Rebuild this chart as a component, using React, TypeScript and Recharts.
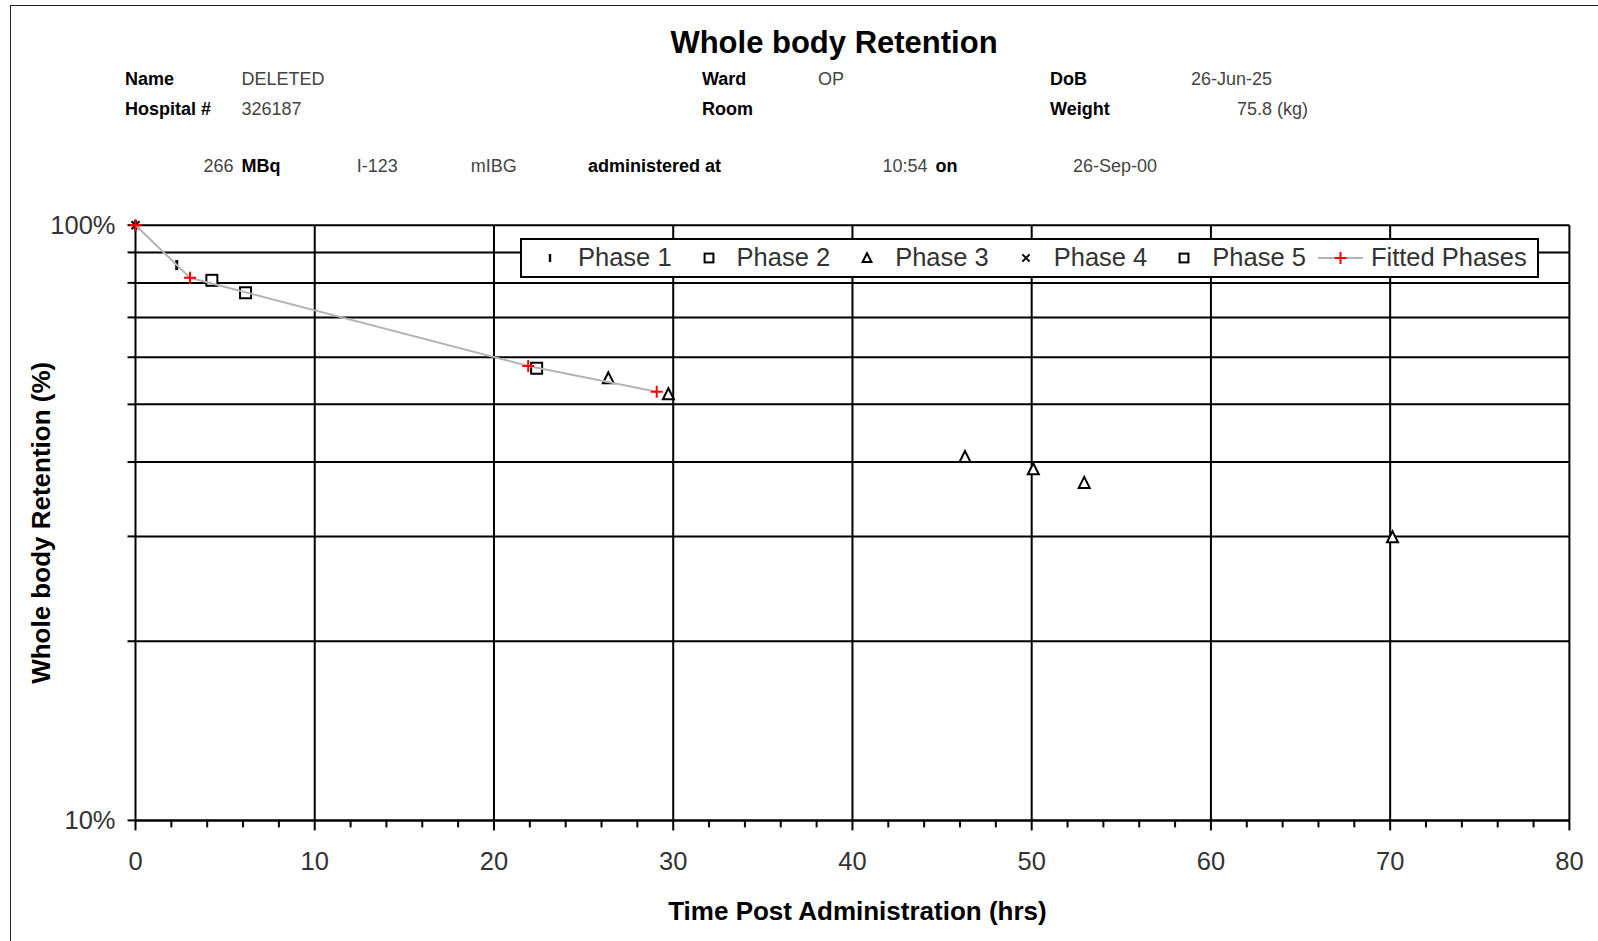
import React from 'react';
import {
  ScatterChart,
  Scatter,
  XAxis,
  YAxis,
  CartesianGrid,
  ReferenceLine,
  Legend,
  Label,
} from 'recharts';

// measured retention (% of dose) against hours after administration
const phase1 = [
  { t: 0, r: 100 },
  { t: 2.3, r: 85.7 },
];
const phase2 = [
  { t: 4.26, r: 80.8 },
  { t: 6.14, r: 77.0 },
  { t: 22.38, r: 57.5 },
];
const phase3 = [
  { t: 26.38, r: 55.3 },
  { t: 29.73, r: 52.0 },
  { t: 46.28, r: 40.8 },
  { t: 50.09, r: 38.9 },
  { t: 52.93, r: 36.9 },
  { t: 70.13, r: 29.9 },
];
const phase4 = [{ t: 0, r: 100 }];
const phase5: { t: number; r: number }[] = [];
const fitted = [
  { t: 0, r: 100 },
  { t: 3.04, r: 81.6 },
  { t: 21.91, r: 58.0 },
  { t: 29.08, r: 52.5 },
];

const xTicks = Array.from({ length: 41 }, (_, i) => i * 2);
const xGridLines = [10, 20, 30, 40, 50, 60, 70, 80];
const yTicks = [10, 20, 30, 40, 50, 60, 70, 80, 90, 100];
const yLabelled = [10, 100];

const patient = {
  name: 'DELETED',
  hospital: '326187',
  ward: 'OP',
  room: '',
  dob: '26-Jun-25',
  weight: '75.8',
};
const dose = {
  activity: '266',
  isotope: 'I-123',
  agent: 'mIBG',
  time: '10:54',
  date: '26-Sep-00',
};

const FONT = '"Liberation Sans", Arial, Helvetica, sans-serif';
const FITTED = 'Fitted Phases';

// marker glyphs
const BarMark = ({ cx, cy, s = 1 }: any) => (
  <rect x={cx - 1.5 * s} y={cy - 5 * s} width={3 * s} height={10 * s} fill="#000" />
);
const SquareMark = ({ cx, cy, s = 1 }: any) => (
  <rect
    x={cx - 5.5 * s}
    y={cy - 5.5 * s}
    width={11 * s}
    height={11 * s}
    fill="#fff"
    stroke="#000"
    strokeWidth={2}
  />
);
const TriangleMark = ({ cx, cy, s = 1 }: any) => (
  <path
    d={`M${cx},${cy - 6 * s} L${cx + 5.5 * s},${cy + 5 * s} L${cx - 5.5 * s},${cy + 5 * s} Z`}
    fill="#fff"
    stroke="#000"
    strokeWidth={2}
  />
);
const CrossMark = ({ cx, cy, s = 1 }: any) => (
  <path
    d={`M${cx - 4 * s},${cy - 4 * s} L${cx + 4 * s},${cy + 4 * s} M${cx + 4 * s},${cy - 4 * s} L${cx - 4 * s},${cy + 4 * s}`}
    stroke="#000"
    strokeWidth={2}
  />
);
const PlusMark = ({ cx, cy, s = 1 }: any) => (
  <path
    d={`M${cx - 6 * s},${cy} L${cx + 6 * s},${cy} M${cx},${cy - 6 * s} L${cx},${cy + 6 * s}`}
    stroke="#ff0000"
    strokeWidth={2}
  />
);

const legendMarks: Record<string, (cx: number, cy: number) => React.ReactNode> = {
  'Phase 1': (cx, cy) => <BarMark cx={cx} cy={cy} s={0.8} />,
  'Phase 2': (cx, cy) => <SquareMark cx={cx} cy={cy} s={0.8} />,
  'Phase 3': (cx, cy) => <TriangleMark cx={cx} cy={cy} s={0.8} />,
  'Phase 4': (cx, cy) => <CrossMark cx={cx} cy={cy} s={0.9} />,
  'Phase 5': (cx, cy) => <SquareMark cx={cx} cy={cy} s={0.8} />,
};

const LegendBox = ({ payload }: any) => {
  // fitted line sits last, after the measured phases
  const items = [...(payload || [])].sort(
    (a: any, b: any) => Number(a.value === FITTED) - Number(b.value === FITTED)
  );
  return (
    <div
      style={{
        display: 'flex',
        alignItems: 'center',
        boxSizing: 'border-box',
        height: 40,
        padding: '0 10px 0 18px',
        border: '2px solid #000',
        background: '#fff',
        fontFamily: FONT,
        fontSize: 25.5,
        color: '#333',
        whiteSpace: 'nowrap',
      }}
    >
      {items.map((entry: any, i: number) => {
        const fittedItem = entry.value === FITTED;
        return (
          <div
            key={`legend-${i}`}
            style={{ display: 'flex', alignItems: 'center', marginLeft: i === 0 ? 0 : fittedItem ? 12 : 27 }}
          >
            {fittedItem ? (
              <svg width={45} height={20}>
                <line x1={0} x2={45} y1={10} y2={10} stroke="#b4b4b4" strokeWidth={2} />
                <PlusMark cx={22.5} cy={10} />
              </svg>
            ) : (
              <svg width={20} height={20}>
                {legendMarks[entry.value]?.(10, 10)}
              </svg>
            )}
            <span style={{ marginLeft: fittedItem ? 8 : 18 }}>{entry.value}</span>
          </div>
        );
      })}
    </div>
  );
};

const XTick = (props: any) => {
  const { x, y, payload } = props;
  const major = payload.value % 10 === 0;
  return (
    <g>
      <line x1={x} x2={x} y1={y} y2={y + (major ? 10 : 7)} stroke="#000" strokeWidth={2} />
      {major && (
        <text x={x} y={y + 50} textAnchor="middle" fontSize={25.5} fill="#333" fontFamily={FONT}>
          {payload.value}
        </text>
      )}
    </g>
  );
};

const YTitle = (props: any) => {
  const vb = props.viewBox;
  const cx = vb.x - 34.5;
  const cy = vb.y + vb.height / 2;
  return (
    <text
      x={cx}
      y={cy}
      transform={`rotate(-90 ${cx} ${cy})`}
      textAnchor="middle"
      dominantBaseline="central"
      fontSize={26}
      fontWeight="bold"
      fontFamily={FONT}
      fill="#000"
    >
      Whole body Retention (%)
    </text>
  );
};

const label: React.CSSProperties = {
  position: 'absolute',
  fontFamily: FONT,
  fontSize: 18,
  fontWeight: 'bold',
  color: '#000',
  lineHeight: '20px',
  whiteSpace: 'nowrap',
};
const value: React.CSSProperties = { ...label, fontWeight: 'normal', color: '#444' };

export default function App() {
  return (
    <div
      style={{
        position: 'absolute',
        left: 0,
        top: 0,
        width: 1598,
        height: 941,
        overflow: 'hidden',
        background: '#fff',
        fontFamily: FONT,
      }}
    >
      <div
        style={{
          position: 'absolute',
          left: 10,
          top: 5,
          width: 1620,
          height: 960,
          border: '1.5px solid #222',
        }}
      />

      <div
        style={{
          position: 'absolute',
          left: 534,
          width: 600,
          top: 24,
          textAlign: 'center',
          fontSize: 31,
          fontWeight: 'bold',
          lineHeight: '38px',
        }}
      >
        Whole body Retention
      </div>

      <span style={{ ...label, left: 125, top: 68.5 }}>Name</span>
      <span style={{ ...value, left: 241.5, top: 68.5 }}>{patient.name}</span>
      <span style={{ ...label, left: 702, top: 68.5 }}>Ward</span>
      <span style={{ ...value, left: 818, top: 68.5 }}>{patient.ward}</span>
      <span style={{ ...label, left: 1050, top: 68.5 }}>DoB</span>
      <span style={{ ...value, left: 1191, top: 68.5 }}>{patient.dob}</span>

      <span style={{ ...label, left: 125, top: 99 }}>Hospital #</span>
      <span style={{ ...value, left: 241.5, top: 99 }}>{patient.hospital}</span>
      <span style={{ ...label, left: 702, top: 99 }}>Room</span>
      <span style={{ ...value, left: 818, top: 99 }}>{patient.room}</span>
      <span style={{ ...label, left: 1050, top: 99 }}>Weight</span>
      <span style={{ ...value, left: 1237, top: 99 }}>{patient.weight} (kg)</span>

      <span style={{ ...value, right: 1598 - 233.5, top: 156 }}>{dose.activity}</span>
      <span style={{ ...label, left: 241.5, top: 156 }}>MBq</span>
      <span style={{ ...value, left: 356.7, top: 156 }}>{dose.isotope}</span>
      <span style={{ ...value, left: 470.8, top: 156 }}>{dose.agent}</span>
      <span style={{ ...label, left: 588, top: 156 }}>administered at</span>
      <span style={{ ...value, left: 882.5, top: 156 }}>{dose.time}</span>
      <span style={{ ...label, left: 935.5, top: 156 }}>on</span>
      <span style={{ ...value, left: 1073, top: 156 }}>{dose.date}</span>

      <ScatterChart
        width={1598}
        height={941}
        margin={{ top: 225.2, right: 28.6, bottom: 80.6, left: 75.5 }}
        style={{ position: 'absolute', left: 0, top: 0 }}
      >
        <CartesianGrid vertical={false} stroke="#000" strokeWidth={2} />
        {xGridLines.map((v) => (
          <ReferenceLine key={`gx-${v}`} x={v} stroke="#000" strokeWidth={2} />
        ))}
        <XAxis
          dataKey="t"
          type="number"
          domain={[0, 80]}
          ticks={xTicks}
          interval={0}
          height={40}
          tickSize={0}
          tickMargin={0}
          tickLine={false}
          tick={<XTick />}
          axisLine={{ stroke: '#000', strokeWidth: 2 }}
        >
          <Label
            value="Time Post Administration (hrs)"
            position="bottom"
            offset={41}
            dx={5}
            style={{ fontSize: 26, fontWeight: 'bold', fill: '#000', fontFamily: FONT }}
          />
        </XAxis>
        <YAxis
          dataKey="r"
          type="number"
          scale="log"
          domain={[10, 100]}
          ticks={yTicks}
          interval={0}
          width={60}
          tickSize={8}
          tickMargin={12}
          tickFormatter={(v: number) => (yLabelled.includes(v) ? `${v}%` : '')}
          tick={{ fontSize: 25.5, fill: '#333', fontFamily: FONT }}
          tickLine={{ stroke: '#000', strokeWidth: 2 }}
          axisLine={{ stroke: '#000', strokeWidth: 2 }}
        >
          <Label content={<YTitle />} />
        </YAxis>
        <Legend
          layout="horizontal"
          verticalAlign="middle"
          align="center"
          content={<LegendBox />}
          wrapperStyle={{ top: 237.5, left: 520, width: 'auto' }}
        />
        <Scatter name="Phase 1" data={phase1} shape={(p: any) => <BarMark cx={p.cx} cy={p.cy} />} isAnimationActive={false} />
        <Scatter name="Phase 2" data={phase2} shape={(p: any) => <SquareMark cx={p.cx} cy={p.cy} />} isAnimationActive={false} />
        <Scatter name="Phase 3" data={phase3} shape={(p: any) => <TriangleMark cx={p.cx} cy={p.cy} />} isAnimationActive={false} />
        <Scatter name="Phase 4" data={phase4} shape={(p: any) => <CrossMark cx={p.cx} cy={p.cy} />} isAnimationActive={false} />
        <Scatter name="Phase 5" data={phase5} shape={(p: any) => <SquareMark cx={p.cx} cy={p.cy} />} isAnimationActive={false} />
        <Scatter
          name={FITTED}
          data={fitted}
          line={{ stroke: '#b4b4b4', strokeWidth: 2 }}
          lineType="joint"
          shape={(p: any) => <PlusMark cx={p.cx} cy={p.cy} />}
          isAnimationActive={false}
        />
      </ScatterChart>
    </div>
  );
}
